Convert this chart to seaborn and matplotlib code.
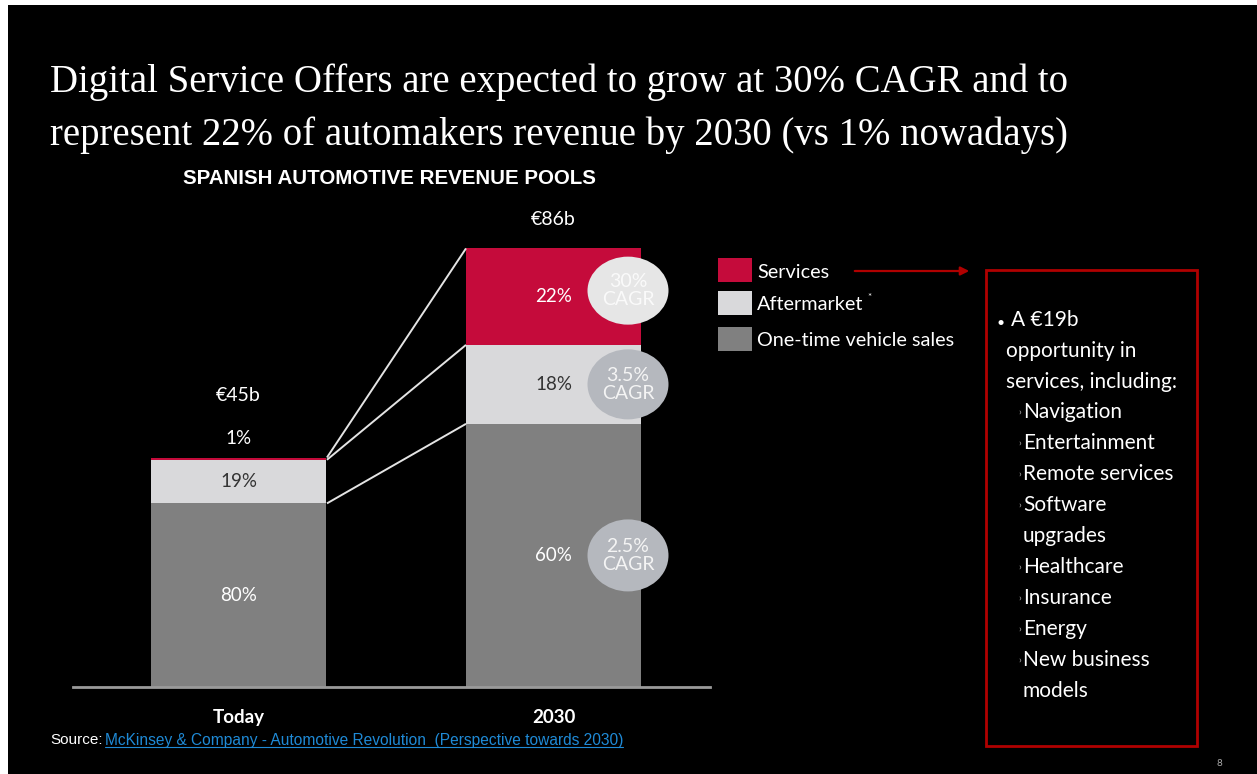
import matplotlib
matplotlib.use("Agg")
import numpy as np
import pandas as pd
import matplotlib.pyplot as plt
import seaborn as sns
from matplotlib.patches import Rectangle, Ellipse, FancyArrowPatch
from matplotlib.lines import Line2D
from matplotlib import font_manager as fm

# ---------------- data ----------------
periods = ["Today", "2030"]
totals = [45, 86]                      # € billions
total_labels = ["€45b", "€86b"]
share_vehicle = [80, 60]               # % One-time vehicle sales
share_aftermarket = [19, 18]           # % Aftermarket
share_services = [1, 22]               # % Services
segment_names = ["Services", "Aftermarket", "One-time vehicle sales"]
cagr_vehicle = "2.5%\nCAGR"
cagr_aftermarket = "3.5%\nCAGR"
cagr_services = "30%\nCAGR"
title_lines = ["Digital Service Offers are expected to grow at 30% CAGR and to",
               "represent 22% of automakers revenue by 2030 (vs 1% nowadays)"]
subtitle = "SPANISH AUTOMOTIVE REVENUE POOLS"
box_head = ["A €19b", "opportunity in", "services, including:"]
box_items = ["Navigation", "Entertainment", "Remote services", "Software", "upgrades",
             "Healthcare", "Insurance", "Energy", "New business", "models"]
box_item_marker = [True, True, True, True, False, True, True, True, True, False]
source_label = "Source:"
source_link = "McKinsey & Company - Automotive Revolution  (Perspective towards 2030)"

# ---------------- style ----------------
sns.set_theme(style="white")
avail = {f.name for f in fm.fontManager.ttflist}
def pick(*names):
    for n in names:
        if n in avail:
            return n
    return "DejaVu Sans"
F_SERIF = pick("Liberation Serif", "DejaVu Serif")
F_NARROW = pick("Liberation Sans Narrow", "Liberation Sans")
F_BODY = pick("Lato", "Open Sans", "DejaVu Sans")
plt.rcParams["font.family"] = [F_BODY, "DejaVu Sans"]

C_SERV = "#c50b3b"
C_AFTER = "#d9d9db"
C_VEH = "#808080"
C_BOX = "#b00000"
seg_colors = [C_SERV, C_AFTER, C_VEH]

W, H = 1257, 774
fig = plt.figure(figsize=(W / 100, H / 100), dpi=100, facecolor="white")
fx = lambda px: px / W
fy = lambda py: 1 - py / H

# black slide background
fig.patches.append(Rectangle((fx(8), 0), 1, fy(5), transform=fig.transFigure,
                             facecolor="black", edgecolor="none", zorder=-10))

# ---------------- bars ----------------
PX_PER_B = 5.1
ax = fig.add_axes([fx(73), fy(687), fx(710) - fx(73), (687 - 200) / H])
ax.set_facecolor("none")

tot = np.array(totals, float)
veh = tot * np.array(share_vehicle) / 100
aft = tot * np.array(share_aftermarket) / 100
srv = tot * np.array(share_services) / 100

df = pd.DataFrame({"period": periods, "veh": veh, "aft": aft, "srv": srv})
BW = 175 / 315
common = dict(x="period", order=periods, width=BW, saturation=1, errorbar=None,
              ax=ax, linewidth=0, edgecolor="none")
sns.barplot(data=df, y="veh", color=C_VEH, **common)
sns.barplot(data=df, y="aft", bottom=veh, color=C_AFTER, **common)
sns.barplot(data=df, y="srv", bottom=veh + aft, color=C_SERV, **common)

ax.set_xlim((73 - 238.5) / 315, (710 - 238.5) / 315)
ax.set_ylim(0, 487 / PX_PER_B)
ax.set_xlabel("")
ax.set_ylabel("")
ax.set_yticks([])
for s in ["top", "left", "right"]:
    ax.spines[s].set_visible(False)
ax.spines["bottom"].set_color("#9a9a9a")
ax.spines["bottom"].set_linewidth(2)
ax.tick_params(axis="x", length=0, pad=16, labelcolor="white", labelsize=13.5)
for lab in ax.get_xticklabels():
    lab.set_fontweight("bold")
    lab.set_family([F_BODY, "DejaVu Sans"])

# connector lines
x0 = 0 + BW / 2
x1 = 1 - BW / 2
for ya, yb in [(veh[0], veh[1]), (veh[0] + aft[0], veh[1] + aft[1]), (tot[0], tot[1])]:
    ax.plot([x0 + 0.003, x1], [ya, yb], color="#e4e4e4", lw=1.4, solid_capstyle="butt")

# segment labels
lab_kw = dict(ha="center", va="center", fontsize=13.5)
for i in range(2):
    ax.text(i, veh[i] / 2, f"{share_vehicle[i]}%", color="white", **lab_kw)
    ax.text(i, veh[i] + aft[i] / 2, f"{share_aftermarket[i]}%", color="#333333", **lab_kw)
ax.text(1, veh[1] + aft[1] + srv[1] / 2, f"{share_services[1]}%", color="white", **lab_kw)
ax.text(0, tot[0] + 19 / PX_PER_B, f"{share_services[0]}%", color="white", **lab_kw)
ax.text(0, tot[0] + 62 / PX_PER_B, total_labels[0], color="white", ha="center", va="center", fontsize=14)
ax.text(1, tot[1] + 29 / PX_PER_B, total_labels[1], color="white", ha="center", va="center", fontsize=14)

# CAGR ellipses
ex = 1 + (628 - 553.5) / 315
ew = 81 / 315
for yc, txt, fc, tc, eh in [
    (veh[1] + aft[1] + srv[1] / 2 + 6 / PX_PER_B, cagr_services, "#e6e6e6", "#fafafa", 68),
    (veh[1] + aft[1] / 2, cagr_aftermarket, "#b5b8be", "#f4f4f4", 70),
    (veh[1] / 2, cagr_vehicle, "#b5b8be", "#f4f4f4", 72)]:
    ax.add_patch(Ellipse((ex, yc), ew, eh / PX_PER_B, facecolor=fc, edgecolor="none",
                         zorder=5, clip_on=False))
    ax.text(ex, yc, txt, ha="center", va="center", color=tc, fontsize=14,
            linespacing=1.1, zorder=6)

# ---------------- titles ----------------
fig.text(fx(50), fy(92), title_lines[0], family=F_SERIF, fontsize=27.9, color="white", va="baseline")
fig.text(fx(50), fy(145), title_lines[1], family=F_SERIF, fontsize=27.9, color="white", va="baseline")
fig.text(fx(183), fy(178), subtitle, family=F_NARROW, fontweight="bold", fontsize=14.8,
         color="white", va="center")

# ---------------- legend ----------------
leg_rows = [(258, 282), (291, 315), (327, 351)]
leg_texts = []
for (t, b), name, c in zip(leg_rows, segment_names, seg_colors):
    fig.patches.append(Rectangle((fx(718), fy(b)), fx(752) - fx(718), fy(t) - fy(b),
                                 transform=fig.transFigure, facecolor=c, edgecolor="none"))
    leg_texts.append(fig.text(fx(757), fy((t + b) / 2 + 2), name, color="white", fontsize=14.3,
                              va="center"))
fig.canvas.draw()
bba = leg_texts[1].get_window_extent()
fig.text((bba.x1 + 4) / W, fy(297), "*", color="white", fontsize=7, va="center")

# arrow
fig.add_artist(FancyArrowPatch(
    (fx(852), fy(271)), (fx(972), fy(271)), transform=fig.transFigure,
    arrowstyle="-|>,head_length=5,head_width=2.5", color=C_BOX, lw=1.6))

# ---------------- right box ----------------
fig.patches.append(Rectangle((fx(986), fy(746)), fx(1197) - fx(986), fy(270) - fy(746),
                             transform=fig.transFigure, facecolor="none",
                             edgecolor=C_BOX, lw=2))
fig.text(fx(997), fy(323), "•", color="white", fontsize=10, va="center")
y = 320
for i, line in enumerate(box_head):
    fig.text(fx(1011 if i == 0 else 1006), fy(y), line, color="white", fontsize=15, va="center")
    y += 30.8
for line, mk in zip(box_items, box_item_marker):
    if mk:
        fig.text(fx(1018), fy(y), "›", color="#bbbbbb", fontsize=7, va="center")
    fig.text(fx(1023), fy(y), line, color="white", fontsize=15, va="center")
    y += 31

# ---------------- source ----------------
fig.text(fx(50), fy(740), source_label, color="white", family=F_NARROW, fontsize=11, va="center")
link = fig.text(fx(105), fy(740), source_link, color="#1f8ad6", family=F_NARROW,
                fontsize=11.2, va="center")
fig.canvas.draw()
bb = link.get_window_extent()
fig.add_artist(Line2D([bb.x0 / W, bb.x1 / W], [(bb.y0 + 1) / H] * 2,
                      transform=fig.transFigure, color="#1f8ad6", lw=0.8))

fig.text(fx(1219), fy(763), "8", color="#aaaaaa", fontsize=7, ha="center", va="center")

fig.savefig("out.png", dpi=100, facecolor=fig.get_facecolor())
